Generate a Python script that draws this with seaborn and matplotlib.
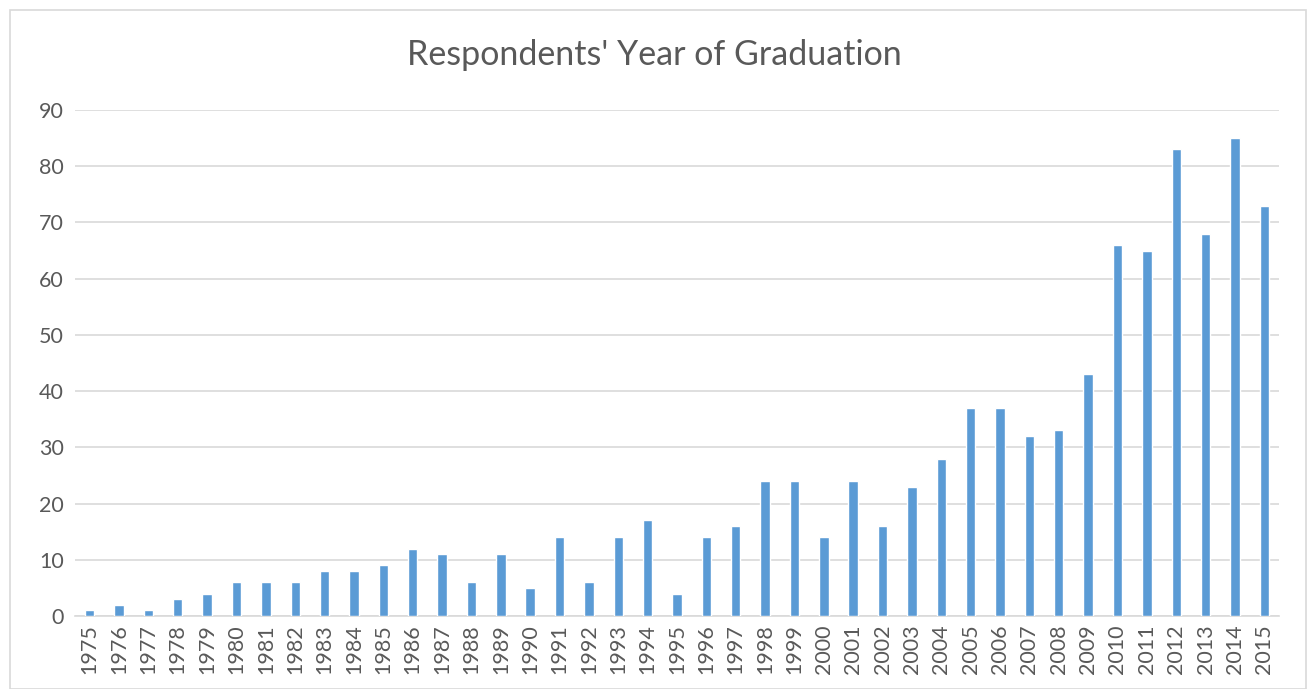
import matplotlib
matplotlib.use("Agg")
import matplotlib.pyplot as plt
import seaborn as sns
import pandas as pd
from matplotlib.patches import Rectangle

years = [str(y) for y in range(1975, 2016)]
counts = [1, 2, 1, 3, 4, 6, 6, 6, 8, 8, 9, 12, 11, 6, 11, 5, 14, 6, 14, 17, 4,
          14, 16, 24, 24, 14, 24, 16, 23, 28, 37, 37, 32, 33, 43, 66, 65, 83, 68, 85, 73]
yticks = [0, 10, 20, 30, 40, 50, 60, 70, 80, 90]
title = "Respondents' Year of Graduation"

sns.set_theme(style="white")
plt.rcParams['font.family'] = ['Lato', 'DejaVu Sans']

df = pd.DataFrame({"year": years, "count": counts})

fig = plt.figure(figsize=(13.08, 6.89), dpi=100)
ax = fig.add_axes([75/1308, 1 - 616/689, (1279-75)/1308, (616-110)/689])

sns.barplot(data=df, x="year", y="count", color="#5B9BD5", width=0.32,
            saturation=1, ax=ax, zorder=3)

ax.set_ylim(0, 90)
ax.set_xlim(-0.5, len(years) - 0.5)
ax.set_yticks(yticks)
ax.yaxis.grid(True, color="#D9D9D9", linewidth=1.2, zorder=0)
ax.xaxis.grid(False)
for s in ["top", "right", "left"]:
    ax.spines[s].set_visible(False)
ax.spines["bottom"].set_color("#D9D9D9")
ax.spines["bottom"].set_linewidth(1.2)
ax.set_xlabel("")
ax.set_ylabel("")
ax.tick_params(axis="both", length=0, colors="#595959", labelsize=15.5)
ax.tick_params(axis="y", pad=8)
ax.tick_params(axis="x", pad=6)
plt.setp(ax.get_xticklabels(), rotation=90)

fig.text(0.5, 1 - 55/689, title, ha="center", va="center",
         fontsize=24.5, color="#595959")

fig.patches.append(Rectangle((10/1308, 0), (1306-10)/1308, 1 - 10/689,
                             transform=fig.transFigure, fill=False,
                             edgecolor="#D9D9D9", linewidth=1.2))

fig.savefig("out.png", dpi=100, facecolor="white")
